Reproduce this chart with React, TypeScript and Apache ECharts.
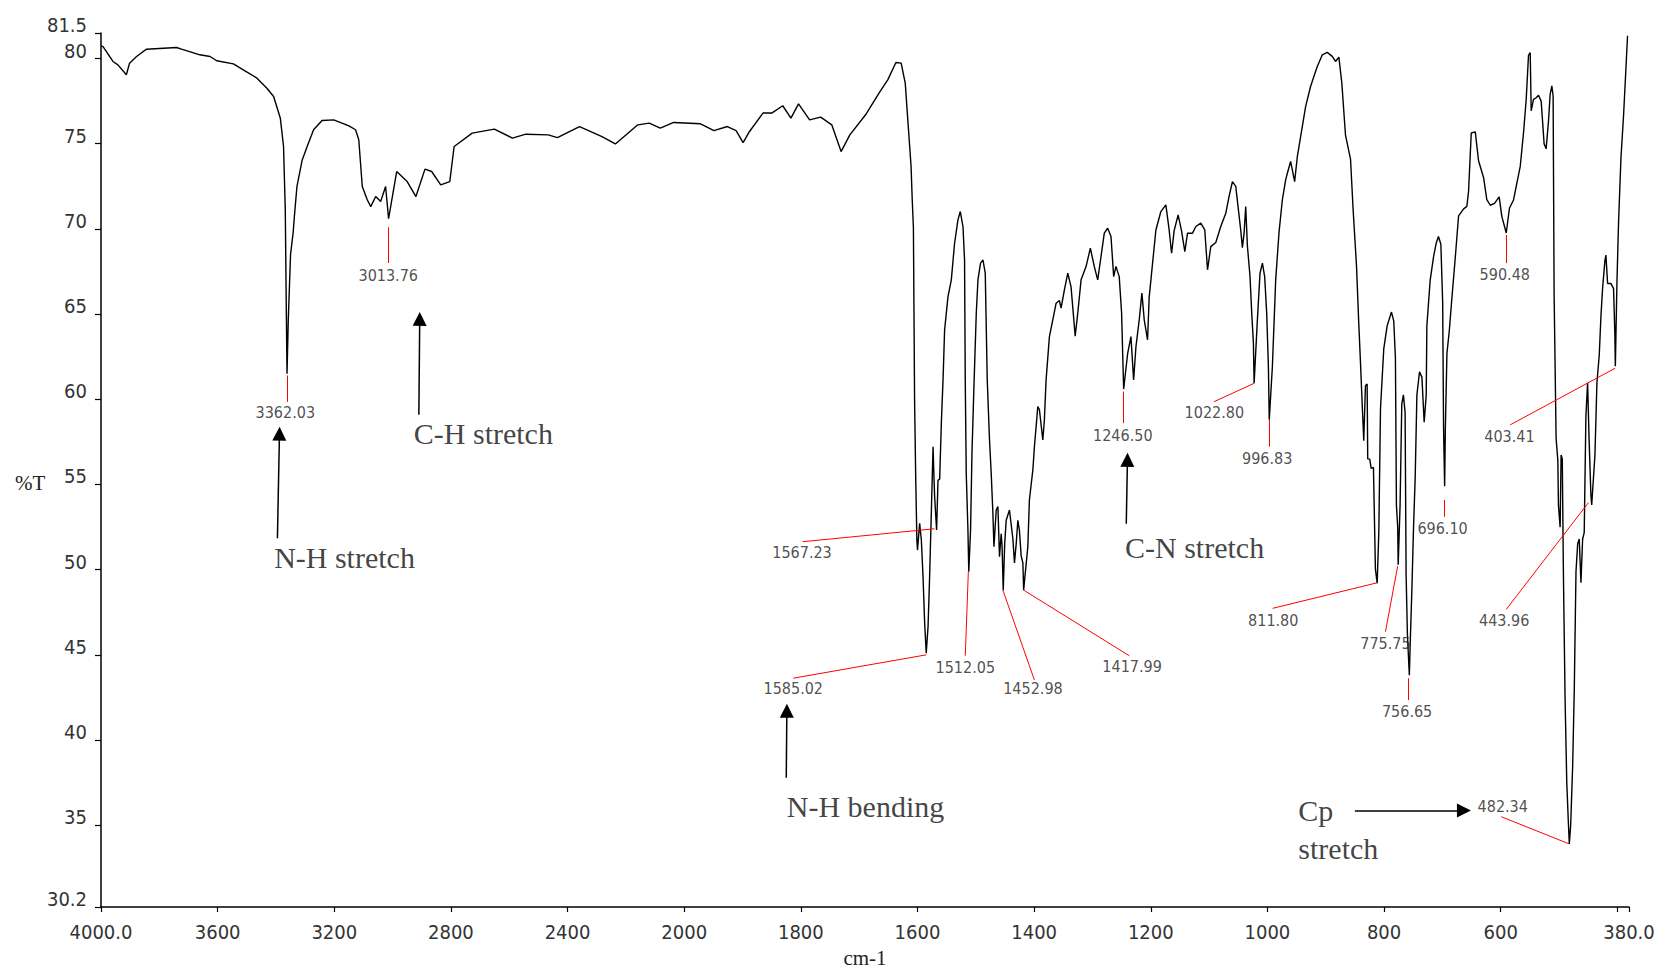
import React, { useEffect, useRef } from "react";
import * as echarts from "echarts";

// ---------- DATA (wavenumber cm-1, %T) ----------
const spectrum: [number, number][] = [
  [4000, 80.75], [3993, 80.7], [3959, 79.83], [3942, 79.63], [3913, 79.05], [3902, 79.73],
  [3878, 80.12], [3844, 80.55], [3741, 80.65], [3724, 80.55], [3661, 80.22], [3626, 80.12],
  [3603, 79.87], [3546, 79.69], [3512, 79.34], [3465, 78.85], [3431, 78.26], [3408, 77.77],
  [3385, 76.5], [3374, 74.84], [3368, 71.1], [3365, 66.0], [3362.03, 61.5], [3358, 64.5],
  [3350, 68.5], [3341, 69.8], [3337, 70.7], [3328, 72.5], [3310, 74.05], [3293, 74.84],
  [3271, 75.82], [3242, 76.36], [3202, 76.4], [3167, 76.17], [3150, 76.05], [3127, 75.82],
  [3116, 75.23], [3104, 72.49], [3087, 71.71], [3075, 71.31], [3058, 71.9], [3041, 71.61],
  [3024, 72.49], [3017, 71.2], [3013.76, 70.6], [2986, 73.37], [2950, 72.78], [2920, 71.9],
  [2889, 73.51], [2866, 73.37], [2835, 72.59], [2804, 72.78], [2789, 74.84], [2727, 75.62],
  [2651, 75.86], [2589, 75.33], [2543, 75.56], [2466, 75.52], [2435, 75.36], [2359, 76.01],
  [2282, 75.42], [2236, 74.99], [2159, 76.11], [2120, 76.21], [2082, 75.92], [2036, 76.25],
  [1972, 76.17], [1949, 75.77], [1926, 76.01], [1911, 75.77], [1899, 75.07], [1888, 75.72],
  [1865, 76.8], [1850, 76.8], [1831, 77.23], [1817, 76.5], [1804, 77.34], [1785, 76.4],
  [1766, 76.56], [1747, 76.11], [1731, 74.54], [1716, 75.52], [1689, 76.7], [1666, 77.97],
  [1651, 78.75], [1637, 79.77], [1628, 79.73], [1621, 78.56], [1611, 73.66], [1609, 71.7],
  [1607, 70.1], [1605, 60.0], [1603, 55.3], [1601, 51.7], [1600, 51.15], [1596.3, 52.72],
  [1593.4, 51.74], [1590.5, 49.59], [1587.7, 46.85], [1585.02, 45.1], [1581.9, 46.65],
  [1579.2, 49.59], [1576.3, 53.31], [1573.3, 57.22], [1571.6, 55.26], [1570.6, 54.28],
  [1567.23, 52.33], [1564.8, 55.26], [1562, 55.3], [1559.1, 58.59], [1556.2, 61.14],
  [1553.5, 64.07], [1547.7, 66.03], [1542, 67.01], [1536.4, 69.16], [1530.6, 70.53],
  [1526.6, 71.02], [1522, 70.14], [1519.3, 68.18], [1518.1, 61.14], [1516.4, 55.66],
  [1513.5, 52.33], [1512.05, 49.88], [1509, 52.33], [1506.6, 56.83], [1503.2, 60.75],
  [1499.2, 65.05], [1496.3, 67.01], [1491.9, 67.99], [1487.8, 68.18], [1483.8, 67.4],
  [1480.4, 61.14], [1476.5, 57.61], [1473.6, 55.66], [1470.7, 53.31], [1468.9, 51.35],
  [1465, 53.5], [1462.1, 53.7], [1459.4, 50.76], [1456.5, 52.1], [1455, 51.4],
  [1452.98, 48.8], [1450.5, 51.5], [1447.9, 52.9], [1442.3, 53.5], [1436.4, 51.8],
  [1433.7, 50.4], [1430.8, 51.5], [1427.9, 52.9], [1425.2, 52.3], [1422.2, 50.8],
  [1419.3, 50.4], [1417.99, 48.8], [1410.8, 51.35], [1408.1, 54.09], [1402.2, 55.85],
  [1399.5, 57.22], [1393.7, 59.57], [1391, 59.4], [1385.1, 57.61], [1382.4, 58.8],
  [1379.5, 61.14], [1373.8, 63.68], [1368, 64.66], [1362.3, 65.64], [1356.7, 65.8],
  [1353.8, 65.35], [1348.1, 66.42], [1342.3, 67.4], [1336.7, 66.6], [1329.6, 63.7],
  [1325.2, 65.05], [1319.5, 67.01], [1311, 67.79], [1303.6, 68.87], [1296.8, 67.79],
  [1291, 67.01], [1285.3, 68.38], [1279.7, 69.75], [1273.9, 70.04], [1268.2, 69.55],
  [1263.6, 67.2], [1259.7, 67.8], [1254.1, 67.2], [1250, 65.05], [1248, 62.5],
  [1246.5, 60.6], [1239.6, 62.7], [1234, 63.68], [1229.4, 61.14], [1225.4, 63.1],
  [1219.8, 64.66], [1215.2, 66.23], [1211.2, 64.66], [1205.5, 63.49], [1202.7, 66.0],
  [1196.9, 67.99], [1191.2, 69.94], [1182.7, 71.02], [1174.1, 71.41], [1168.5, 69.94],
  [1164.3, 68.57], [1159.9, 69.9], [1153.1, 70.82], [1147.3, 69.9], [1141.6, 68.67],
  [1137, 69.75], [1128.4, 69.75], [1122.7, 70.14], [1114.2, 70.34], [1107.4, 69.94],
  [1102.7, 67.6], [1097.1, 68.96], [1088.5, 69.2], [1080, 70.14], [1071.4, 70.92],
  [1065.8, 71.9], [1060, 72.78], [1054.3, 72.5], [1045.8, 69.94], [1042.9, 68.9],
  [1040, 69.75], [1037.2, 71.31], [1034.3, 69.0], [1029.8, 67.2], [1026.9, 65.05],
  [1024, 63.29], [1022.8, 60.94], [1017.2, 64.66], [1012.7, 67.4], [1008.6, 67.99],
  [1004.7, 67.2], [1001.2, 65.05], [998.3, 61.91], [996.83, 58.8], [991.5, 61.91],
  [985.8, 67.01], [980.2, 69.75], [974.4, 71.71], [968.7, 72.88], [965.8, 73.27],
  [960.2, 73.96], [953.3, 72.78], [948.7, 74.25], [940.2, 76.01], [934.5, 77.18],
  [926, 78.36], [920.3, 78.95], [914.5, 79.53], [905.9, 80.22], [897.4, 80.36],
  [888.8, 80.13], [883.2, 79.83], [877.5, 80.08], [872.5, 78.6], [866.1, 75.5],
  [857.5, 74.1], [852.9, 71.05], [847.2, 67.81], [843.3, 64.4], [840.4, 62.15],
  [837.5, 59.73], [834.8, 57.57], [831.9, 60.8], [829, 60.9], [828, 56.5], [824.5, 56.49],
  [822.1, 55.95], [818.2, 56.0], [814.8, 50.02], [811.8, 49.21], [809, 52.18],
  [806.1, 59.46], [800.5, 62.96], [794.7, 64.31], [787.3, 65.12], [783.4, 64.6],
  [780.5, 62.42], [778.8, 53.8], [776.6, 52.5], [775.75, 50.29], [772.5, 53.8],
  [769.6, 59.73], [766.8, 60.26], [763.9, 59.2], [762.2, 49.75], [760, 46.24],
  [756.65, 43.81], [755.1, 45.71], [752.2, 48.94], [749.5, 52.45], [746.6, 55.41],
  [743.7, 60.26], [739.2, 61.61], [735.1, 61.3], [731.2, 58.65], [727.7, 60.26],
  [726.6, 64.31], [720.9, 67.0], [715.2, 68.35], [710.6, 69.16], [706.7, 69.56],
  [702.6, 69.1], [699.5, 65.7], [698, 58.4], [697, 56.5], [696.1, 54.9], [695, 58.1],
  [692.2, 62.69], [688.1, 64.04], [683.7, 65.93], [677.8, 68.35], [672.2, 70.77],
  [663.6, 71.18], [658, 71.32], [655.1, 72.2], [650.5, 75.63], [643.6, 75.7],
  [638, 74.0], [629.4, 73.02], [623.8, 71.72], [617.9, 71.39], [610.6, 71.5],
  [602.6, 71.88], [598.1, 70.74], [590.48, 69.76], [584.9, 71.23], [578, 71.7],
  [572.2, 72.7], [566.5, 73.67], [560.9, 75.63], [556.3, 77.58], [552.3, 80.19],
  [549.4, 80.35], [547.7, 76.93], [543.8, 77.6], [539.2, 77.7], [535.2, 77.85],
  [530.6, 77.5], [525.5, 74.98], [522.1, 74.7], [518.1, 76.3], [515.2, 77.9],
  [512.3, 78.4], [510.1, 77.8], [508.4, 66.18], [505, 57.71], [502, 56.4], [501, 53.8],
  [498.1, 52.49], [496.4, 56.73], [494.4, 56.5], [492.5, 49.88], [489.6, 42.4],
  [486.7, 37.5], [484, 35.2], [482.34, 33.9], [480, 35.0], [476.6, 38.5], [473.8, 43.0],
  [470.9, 49.88], [468, 51.52], [465.3, 51.8], [462.4, 49.24], [459.5, 51.8],
  [456.8, 52.17], [453.9, 59.01], [451, 60.97], [448.3, 57.5], [445.4, 54.45],
  [443.96, 53.8], [438.4, 56.73], [435, 60.97], [431, 62.6], [428.1, 64.88],
  [425.3, 66.5], [421.3, 68.14], [419.6, 68.46], [416.7, 66.8], [411.1, 66.8],
  [406.5, 66.5], [404.3, 63.9], [403.41, 61.94], [400.7, 66.83], [397.9, 70.41],
  [393.8, 74.16], [389.4, 76.61], [386.5, 78.56], [382.5, 81.34],
];

const xTickWavenumbers = [4000, 3600, 3200, 2800, 2400, 2000, 1800, 1600, 1400, 1200, 1000, 800, 600, 400, 380];
const xTickTexts = ["4000.0", "3600", "3200", "2800", "2400", "2000", "1800", "1600", "1400", "1200", "1000", "800", "600", "", "380.0"];

const peakNames = [
  "3362.03", "3013.76", "1585.02", "1567.23", "1512.05", "1452.98", "1417.99", "1246.50", "1022.80",
  "996.83", "811.80", "775.75", "756.65", "696.10", "590.48", "482.34", "443.96", "403.41",
];

const bandNames = ["N-H stretch", "C-H stretch", "N-H bending", "C-N stretch", "Cp", "stretch"];

// ---------- ANNOTATION LAYOUT (in data coordinates: wavenumber, %T) ----------
const peakLeaderLines: [number, number, number, number][] = [
  [3362.03, 61.4, 3362.03, 59.85],
  [3013.76, 70.1, 3013.76, 68.0],
  [1585.02, 45.0, 1813, 43.63],
  [1570.8, 52.4, 1797, 51.64],
  [1512.8, 49.9, 1518, 44.95],
  [1453.6, 48.8, 1399.5, 43.52],
  [1417.99, 48.8, 1237, 44.95],
  [1246.5, 60.45, 1246.5, 58.6],
  [1022.8, 60.94, 1091.4, 59.86],
  [996.83, 58.8, 996.83, 57.22],
  [811.8, 49.23, 991, 47.73],
  [776.6, 50.21, 797.6, 46.36],
  [759, 43.62, 759, 42.35],
  [696.1, 54.09, 696.1, 53.11],
  [590.48, 69.65, 590.48, 67.99],
  [482.34, 33.9, 599, 35.5],
  [449.6, 53.93, 590.5, 47.67],
  [403.9, 61.82, 583.7, 58.5],
];
const peakLabelAnchors: [number, number][] = [
  [3368, 59.25], [3015, 67.25], [1813, 43.0], [1798, 51.02], [1518, 44.25], [1402, 43.0],
  [1232, 44.3], [1248, 57.85], [1091, 59.22], [1000.4, 56.54], [990, 47.03], [797.6, 45.68],
  [760.5, 41.66], [699.7, 52.43], [593, 67.3], [596.5, 36.1], [594, 47.0], [585, 57.81],
];
const bandTextAnchors: [number, number][] = [
  [3408, 50.7], [2929, 57.98], [1825, 36.1], [1245, 51.33], [947.8, 35.86], [947.8, 33.65],
];
const bandArrows: [number, number, number, number][] = [
  [3395, 51.84, 3388, 57.98],
  [2910, 59.09, 2907, 64.72],
  [1825, 37.78, 1824, 41.72],
  [1242, 52.69, 1240, 56.45],
  [850, 35.86, 663, 35.86],
];

// Perkin-Elmer style split abscissa: 4000-2000 compressed 2x, 2000-380 full scale
const toAxis = (v: number) => (v >= 2000 ? (4000 - v) / 2 : 1000 + (2000 - v));

export default function App() {
  const ref = useRef<HTMLDivElement>(null);
  useEffect(() => {
    if (!ref.current) return;
    const chart = echarts.init(ref.current, null, { renderer: "svg" });
    const sans = "'DejaVu Sans Condensed', 'Liberation Sans', Arial, sans-serif";
    const serif = "'Liberation Serif', 'Times New Roman', serif";
    const xLabel = (t: number) => {
      const i = xTickWavenumbers.findIndex((w) => Math.abs(toAxis(w) - t) < 0.01);
      return i >= 0 ? xTickTexts[i] : "";
    };
    chart.setOption({
      animation: false,
      backgroundColor: "#ffffff",
      grid: { left: 101, right: 30, top: 33, bottom: 62, containLabel: false, outerBoundsMode: "none" },
      graphic: [
        {
          type: "text",
          left: 15,
          top: 472,
          silent: true,
          style: { text: "%T", fontFamily: serif, fontSize: 21, fill: "#222" },
        },
      ],
      xAxis: {
        type: "value",
        min: 0,
        max: toAxis(380),
        interval: 200,
        axisLine: { show: true, onZero: false, lineStyle: { color: "#000", width: 1.5 } },
        axisTick: { show: true, length: 5, lineStyle: { color: "#000", width: 1.2 } },
        axisLabel: {
          show: true, showMinLabel: true, showMaxLabel: true, margin: 15, fontSize: 20,
          color: "#333", fontFamily: sans, formatter: (t: number) => xLabel(t),
        },
        splitLine: { show: false },
        name: "cm-1",
        nameLocation: "middle",
        nameGap: 40,
        nameTextStyle: { fontFamily: serif, fontSize: 21, color: "#222" },
      },
      yAxis: {
        type: "value",
        min: 30.2,
        max: 81.5,
        splitNumber: 10,
        axisLine: { show: true, lineStyle: { color: "#000", width: 1.5 } },
        axisTick: { show: true, length: 6, lineStyle: { color: "#000", width: 1.2 } },
        axisLabel: {
          show: true, showMinLabel: true, showMaxLabel: true, margin: 14, fontSize: 20,
          color: "#333", fontFamily: sans, verticalAlign: "bottom", lineHeight: 16,
          formatter: (v: number) => String(Math.round(v * 10) / 10),
        },
        splitLine: { show: false },
      },
      series: [
        {
          type: "line",
          name: "%T",
          data: spectrum.map(([v, t]) => [toAxis(v), t]),
          showSymbol: false,
          symbol: "none",
          lineStyle: { color: "#000", width: 1.4 },
          silent: true,
          z: 2,
        },
        {
          type: "lines",
          coordinateSystem: "cartesian2d",
          polyline: false,
          symbol: "none",
          lineStyle: { color: "#ff0000", width: 1, opacity: 1 },
          data: peakLeaderLines.map(([a, b, c, d]) => ({ coords: [[toAxis(a), b], [toAxis(c), d]] })),
          silent: true,
          z: 3,
        },
        {
          type: "lines",
          coordinateSystem: "cartesian2d",
          polyline: false,
          symbol: ["none", "triangle"],
          symbolSize: 14,
          lineStyle: { color: "#000", width: 1.5, opacity: 1 },
          itemStyle: { color: "#000" },
          data: bandArrows.map(([a, b, c, d]) => ({ coords: [[toAxis(a), b], [toAxis(c), d]] })),
          silent: true,
          z: 3,
        },
        {
          type: "scatter",
          symbolSize: 1,
          itemStyle: { color: "rgba(0,0,0,0)" },
          data: peakNames.map((name, i) => ({
            name,
            value: [toAxis(peakLabelAnchors[i][0]), peakLabelAnchors[i][1]],
          })),
          label: {
            show: true, position: "inside", formatter: "{b}", fontSize: 16,
            color: "#222", fontFamily: sans,
          },
          silent: true,
          z: 4,
        },
        {
          type: "scatter",
          symbolSize: 1,
          itemStyle: { color: "rgba(0,0,0,0)" },
          data: bandNames.map((name, i) => ({
            name,
            value: [toAxis(bandTextAnchors[i][0]), bandTextAnchors[i][1]],
          })),
          label: {
            show: true, position: "right", distance: 0, formatter: "{b}", fontSize: 30,
            color: "#111", fontFamily: serif,
          },
          silent: true,
          z: 4,
        },
      ],
    });
    return () => chart.dispose();
  }, []);
  return (
    <div
      ref={ref}
      style={{ position: "fixed", left: 0, top: 0, width: 1659, height: 969, background: "#fff" }}
    />
  );
}
